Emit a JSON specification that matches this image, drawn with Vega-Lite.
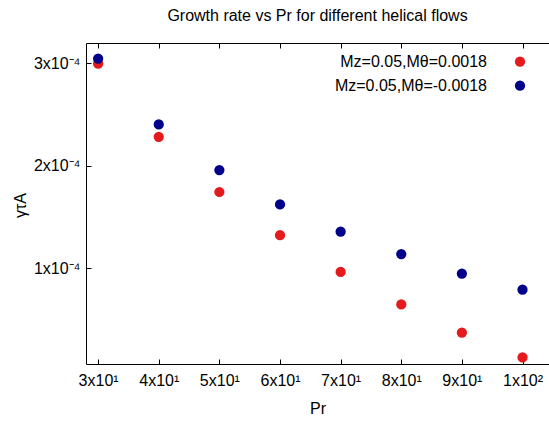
{
  "$schema": "https://vega.github.io/schema/vega-lite/v6.json",
  "width": 463,
  "height": 321,
  "autosize": {"type": "none"},
  "padding": {"left": 86, "top": 43, "right": 0, "bottom": 58},
  "background": "white",
  "title": {
    "text": "Growth rate vs Pr for different helical flows",
    "font": "Liberation Sans",
    "fontSize": 16,
    "fontWeight": "normal",
    "color": "#000000",
    "anchor": "middle",
    "baseline": "alphabetic",
    "offset": 6
  },
  "data": {
    "values": [
      {"Pr": 30, "gamma": 2.993e-4, "series": "Mz=0.05,Mθ=0.0018"},
      {"Pr": 40, "gamma": 2.282e-4, "series": "Mz=0.05,Mθ=0.0018"},
      {"Pr": 50, "gamma": 1.744e-4, "series": "Mz=0.05,Mθ=0.0018"},
      {"Pr": 60, "gamma": 1.323e-4, "series": "Mz=0.05,Mθ=0.0018"},
      {"Pr": 70, "gamma": 0.965e-4, "series": "Mz=0.05,Mθ=0.0018"},
      {"Pr": 80, "gamma": 0.649e-4, "series": "Mz=0.05,Mθ=0.0018"},
      {"Pr": 90, "gamma": 0.374e-4, "series": "Mz=0.05,Mθ=0.0018"},
      {"Pr": 100, "gamma": 0.133e-4, "series": "Mz=0.05,Mθ=0.0018"},
      {"Pr": 30, "gamma": 3.042e-4, "series": "Mz=0.05,Mθ=-0.0018"},
      {"Pr": 40, "gamma": 2.402e-4, "series": "Mz=0.05,Mθ=-0.0018"},
      {"Pr": 50, "gamma": 1.958e-4, "series": "Mz=0.05,Mθ=-0.0018"},
      {"Pr": 60, "gamma": 1.623e-4, "series": "Mz=0.05,Mθ=-0.0018"},
      {"Pr": 70, "gamma": 1.357e-4, "series": "Mz=0.05,Mθ=-0.0018"},
      {"Pr": 80, "gamma": 1.140e-4, "series": "Mz=0.05,Mθ=-0.0018"},
      {"Pr": 90, "gamma": 0.948e-4, "series": "Mz=0.05,Mθ=-0.0018"},
      {"Pr": 100, "gamma": 0.793e-4, "series": "Mz=0.05,Mθ=-0.0018"}
    ]
  },
  "layer": [
    {
      "mark": {"type": "point", "filled": true, "size": 105, "opacity": 1, "strokeWidth": 0},
      "encoding": {
        "x": {
          "field": "Pr",
          "type": "quantitative",
          "scale": {"domain": [28, 104.37], "nice": false, "zero": false},
          "axis": {
            "orient": "bottom",
            "values": [30, 40, 50, 60, 70, 80, 90, 100],
            "labelExpr": "datum.value == 100 ? '1x10²' : (datum.value / 10) + 'x10¹'",
            "title": "Pr",
            "grid": false,
            "tickSize": -5,
            "labelPadding": 26,
            "labelBaseline": "alphabetic",
            "labelFlush": false,
            "labelOverlap": false,
            "titleBaseline": "alphabetic",
            "titleY": 49
          }
        },
        "y": {
          "field": "gamma",
          "type": "quantitative",
          "scale": {"domain": [6.9e-6, 3.195e-4], "nice": false, "zero": false},
          "axis": {
            "values": [0.0001, 0.0002, 0.0003],
            "labelExpr": "round(datum.value * 10000) + 'x10⁻⁴'",
            "title": "γτA",
            "grid": false,
            "tickSize": -5,
            "labelPadding": 11,
            "labelBaseline": "middle",
            "labelFlush": false,
            "labelOverlap": false,
            "titleBaseline": "middle",
            "titleAngle": -90,
            "titleX": -66,
            "titleY": 162
          }
        },
        "color": {
          "field": "series",
          "type": "nominal",
          "scale": {
            "domain": ["Mz=0.05,Mθ=0.0018", "Mz=0.05,Mθ=-0.0018"],
            "range": ["#e41a1c", "#00008b"]
          },
          "legend": {
            "title": null,
            "orient": "none",
            "legendX": 426,
            "legendY": 10.7,
            "padding": 0,
            "rowPadding": 8,
            "symbolType": "circle",
            "symbolSize": 105,
            "symbolStrokeWidth": 0,
            "symbolOpacity": 1,
            "labelAlign": "right",
            "labelOffset": -41,
            "labelFont": "Liberation Sans",
            "labelFontSize": 16,
            "labelColor": "#000000",
            "labelLimit": 400
          }
        }
      }
    },
    {
      "mark": {"type": "point", "opacity": 0},
      "encoding": {
        "x": {
          "field": "Pr",
          "type": "quantitative",
          "scale": {"domain": [28, 104.37], "nice": false, "zero": false},
          "axis": {
            "orient": "top",
            "values": [30, 40, 50, 60, 70, 80, 90, 100],
            "labels": false,
            "title": null,
            "grid": false,
            "tickSize": -5
          }
        }
      }
    }
  ],
  "resolve": {"axis": {"x": "independent"}},
  "config": {
    "view": {"stroke": null},
    "axis": {
      "labelFont": "Liberation Sans",
      "labelFontSize": 16,
      "labelColor": "#000000",
      "titleFont": "Liberation Sans",
      "titleFontSize": 16,
      "titleFontWeight": "normal",
      "titleColor": "#000000",
      "domainColor": "#000000",
      "tickColor": "#000000",
      "domainWidth": 1,
      "tickWidth": 1
    }
  }
}
